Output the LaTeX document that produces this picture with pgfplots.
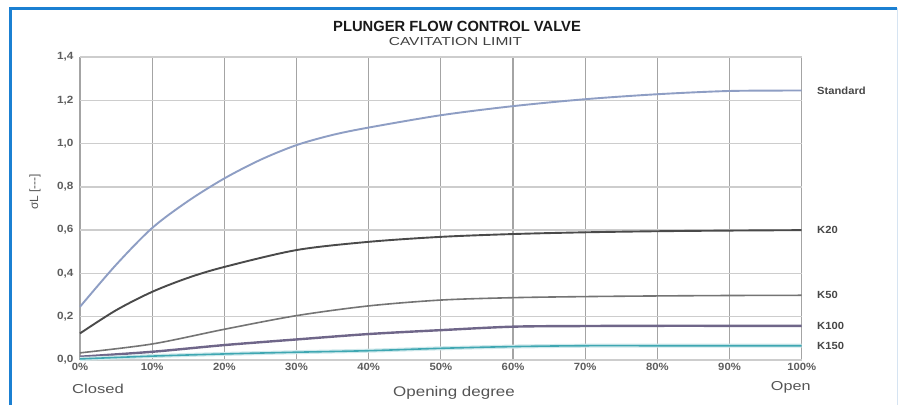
\documentclass[border=0pt]{standalone}
\usepackage{fontspec}
\setmainfont{Liberation Sans}
\usepackage{pgfplots}
\pgfplotsset{compat=1.18}
\definecolor{frameblue}{HTML}{1B80D2}
\definecolor{lightframe}{HTML}{D6E4F2}
\definecolor{gridv}{HTML}{A4A4A4}
\definecolor{gridh}{HTML}{CDCDCD}
\definecolor{tickgray}{HTML}{5E5E5E}
\definecolor{labgray}{HTML}{555555}
\definecolor{cstd}{HTML}{8E9EC4}
\definecolor{ck20}{HTML}{4A4A4A}
\definecolor{ck50}{HTML}{747474}
\definecolor{ck100}{HTML}{6F6689}
\definecolor{ck150}{HTML}{3FA7B2}
\begin{document}
\begin{tikzpicture}[x=1bp,y=1bp]
\path[use as bounding box] (0,0) rectangle (900,405);
\fill[white] (0,0) rectangle (900,405);
\draw[frameblue, line width=2.5bp] (10.5,0) -- (10.5,396.5) -- (897,396.5);
\draw[lightframe, line width=1bp] (897,396.5) -- (897,0);
\node[font=\fontsize{14.8}{16}\selectfont\bfseries, text=black!90] at (457,379) {PLUNGER FLOW CONTROL VALVE};
\node[font=\fontsize{11.6}{13}\selectfont, text=black!75] at (455.5,363.5) {\scalebox{1.34}[1]{CAVITATION LIMIT}};
\node[font=\fontsize{13}{15}\selectfont, text=labgray] at (98,16) {\scalebox{1.28}[1]{Closed}};
\node[font=\fontsize{14}{16}\selectfont, text=labgray] at (454,12.3) {\scalebox{1.215}[1]{Opening degree}};
\node[font=\fontsize{13}{15}\selectfont, text=labgray] at (790.7,17.3) {\scalebox{1.25}[1]{Open}};
\node[font=\fontsize{12}{14}\selectfont, text=labgray, rotate=90] at (35,213) {σL [{-}{-}{-}]};
\begin{axis}[
  at={(80bp,45bp)}, anchor=south west, scale only axis,
  width=721.7bp, height=303bp,
  xmin=0, xmax=100, ymin=0, ymax=1.4,
  xtick={0,10,20,30,40,50,60,70,80,90,100},
  ytick={0,0.2,0.4,0.6,0.8,1.0,1.2,1.4},
  grid=major,
  x grid style={gridv, line width=1.2bp},
  y grid style={gridh, line width=1.5bp},
  axis line style={draw=none},
  major tick length=0,
  clip=false,
  /pgf/number format/assume math mode=true,
  tick label style={font=\fontsize{10.5}{12}\selectfont\bfseries, text=tickgray},
  xticklabel={\scalebox{1.08}[1]{\pgfmathprintnumber[fixed,precision=0]{\tick}\%}},
  yticklabel={\scalebox{1.12}[1]{\pgfmathprintnumber[fixed,fixed zerofill,precision=1,use comma]{\tick}}},
  yticklabel style={xshift=-3bp},
  every axis plot/.append style={smooth, no marks},
]
\addplot[cstd, line width=1.9bp] coordinates {
(0,0.246) (5,0.44) (10,0.61) (15,0.735) (20,0.839) (25,0.925) (30,0.993) (35,1.04) (40,1.074) (50,1.131) (60,1.173) (70,1.205) (80,1.228) (90,1.243) (100,1.245)};
\addplot[ck20, line width=1.9bp] coordinates {
(0,0.123) (5,0.23) (10,0.315) (15,0.38) (20,0.43) (30,0.508) (40,0.546) (50,0.569) (60,0.582) (70,0.59) (80,0.595) (90,0.598) (100,0.6)};
\addplot[ck50, line width=1.6bp] coordinates {
(0,0.033) (10,0.074) (20,0.142) (30,0.205) (40,0.25) (50,0.277) (60,0.288) (70,0.293) (80,0.296) (90,0.298) (100,0.299)};
\addplot[ck100, line width=2.4bp] coordinates {
(0,0.015) (10,0.038) (20,0.069) (30,0.095) (40,0.12) (50,0.138) (60,0.154) (70,0.157) (80,0.158) (90,0.158) (100,0.158)};
\addplot[ck150!25, line width=4bp] coordinates {
(0,0.005) (10,0.018) (20,0.028) (30,0.036) (40,0.043) (50,0.054) (60,0.062) (70,0.066) (80,0.066) (90,0.066) (100,0.066)};
\addplot[ck150, line width=1.6bp] coordinates {
(0,0.005) (10,0.018) (20,0.028) (30,0.036) (40,0.043) (50,0.054) (60,0.062) (70,0.066) (80,0.066) (90,0.066) (100,0.066)};
\begin{scope}[every node/.style={anchor=west, font=\fontsize{10.4}{12}\selectfont\bfseries, text=black!72, xshift=12bp}]
\node at (axis cs:100,1.245) {\scalebox{1.08}[1]{Standard}};
\node at (axis cs:100,0.6) {\scalebox{1.08}[1]{K20}};
\node at (axis cs:100,0.299) {\scalebox{1.08}[1]{K50}};
\node at (axis cs:100,0.158) {\scalebox{1.08}[1]{K100}};
\node at (axis cs:100,0.066) {\scalebox{1.08}[1]{K150}};
\end{scope}
\end{axis}
\end{tikzpicture}
\end{document}
